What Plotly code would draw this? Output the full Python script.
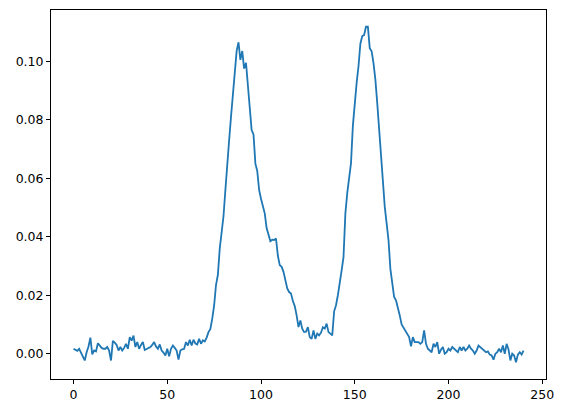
import plotly.graph_objects as go

y_values = [
    0.0017, 0.0012, 0.0010, 0.0017, 0.0005, -0.0006, -0.0023, 0.0005, 0.0025, 0.0055,
    -0.0002, 0.0011, 0.0008, 0.0036, 0.0028, 0.0020, 0.0017, 0.0017, 0.0023, 0.0011,
    -0.0023, 0.0044, 0.0038, 0.0030, 0.0011, 0.0023, 0.0011, 0.0020, 0.0034, 0.0017,
    0.0057, 0.0045, 0.0062, 0.0023, 0.0040, 0.0017, 0.0030, 0.0040, 0.0013, 0.0017,
    0.0020, 0.0023, 0.0030, 0.0040, 0.0025, 0.0017, 0.0032, 0.0011, 0.0004, -0.0006,
    0.0017, -0.0009, 0.0017, 0.0028, 0.0020, 0.0011, -0.0020, 0.0011, 0.0015, 0.0017,
    0.0040, 0.0028, 0.0048, 0.0028, 0.0048, 0.0035, 0.0032, 0.0051, 0.0034, 0.0046,
    0.0042, 0.0055, 0.0074, 0.0085, 0.0120, 0.0165, 0.0235, 0.0270, 0.0360, 0.0410,
    0.0470, 0.0560, 0.0660, 0.0730, 0.0810, 0.0895, 0.0970, 0.1035, 0.1065, 0.1005,
    0.1035, 0.0975, 0.0995, 0.0910, 0.0830, 0.0765, 0.0750, 0.0650, 0.0625, 0.0560,
    0.0530, 0.0505, 0.0480, 0.0430, 0.0411, 0.0385, 0.0390, 0.0389, 0.0394, 0.0335,
    0.0303, 0.0297, 0.0280, 0.0251, 0.0223, 0.0211, 0.0206, 0.0180, 0.0163, 0.0131,
    0.0091, 0.0114, 0.0086, 0.0074, 0.0075, 0.0091, 0.0057, 0.0051, 0.0080, 0.0051,
    0.0069, 0.0063, 0.0072, 0.0091, 0.0086, 0.0103, 0.0074, 0.0069, 0.0063, 0.0145,
    0.0166, 0.0200, 0.0250, 0.0285, 0.0330, 0.0480, 0.0549, 0.0610, 0.0652, 0.0780,
    0.0869, 0.0926, 0.0983, 0.1060, 0.1086, 0.1090, 0.1118, 0.1118, 0.1045, 0.1034,
    0.0994, 0.0937, 0.0857, 0.0760, 0.0691, 0.0600, 0.0503, 0.0446, 0.0389, 0.0290,
    0.0240, 0.0194, 0.0183, 0.0160, 0.0131, 0.0100, 0.0088, 0.0078, 0.0069, 0.0057,
    0.0025, 0.0057, 0.0040, 0.0040, 0.0040, 0.0034, 0.0040, 0.0080, 0.0034, 0.0017,
    0.0011, 0.0005, 0.0034, 0.0023, 0.0040, 0.0000, 0.0014, 0.0023, 0.0000, 0.0005,
    0.0017, 0.0011, 0.0023, 0.0017, 0.0011, 0.0005, 0.0023, 0.0011, 0.0023, 0.0011,
    0.0017, 0.0028, 0.0017, 0.0011, 0.0000, 0.0011, 0.0028, 0.0023, 0.0017, 0.0010,
    0.0005, 0.0008, -0.0003, -0.0006, -0.0020, 0.0000, 0.0005, 0.0017, 0.0005, 0.0028,
    0.0000, 0.0034, 0.0015, -0.0023, 0.0000, -0.0006, -0.0029, -0.0003, 0.0005, -0.0003,
    0.0011,
]
x_values = list(range(len(y_values)))

x_ticks = [0, 50, 100, 150, 200, 250]
y_ticks = [0.00, 0.02, 0.04, 0.06, 0.08, 0.10]

fig = go.Figure()
fig.add_trace(go.Scatter(
    x=x_values, y=y_values, mode="lines",
    line=dict(color="#1f77b4", width=1.8),
    showlegend=False,
))

ymin, ymax = min(y_values), max(y_values)
ypad = (ymax - ymin) * 0.05
xmin, xmax = x_values[0], x_values[-1]
xpad = (xmax - xmin) * 0.05

axis_common = dict(
    showline=True, linecolor="black", linewidth=1, mirror=True,
    ticks="outside", ticklen=4, tickcolor="black", tickwidth=1,
    showgrid=False, zeroline=False, automargin=False,
    tickfont=dict(family="DejaVu Sans", size=12.5, color="black"),
)

fig.update_layout(
    width=563, height=413,
    margin=dict(l=51, r=17, t=10, b=34, pad=0),
    paper_bgcolor="white", plot_bgcolor="white",
    xaxis=dict(range=[xmin - xpad, xmax + xpad], tickvals=x_ticks,
               ticktext=[str(t) for t in x_ticks], **axis_common),
    yaxis=dict(range=[ymin - ypad, ymax + ypad], tickvals=y_ticks,
               ticktext=[f"{t:.2f}" for t in y_ticks], **axis_common),
)

fig.write_html("out.html",
               config={"displayModeBar": False},
               post_script="document.body.style.margin='0';document.body.style.overflow='hidden';")
